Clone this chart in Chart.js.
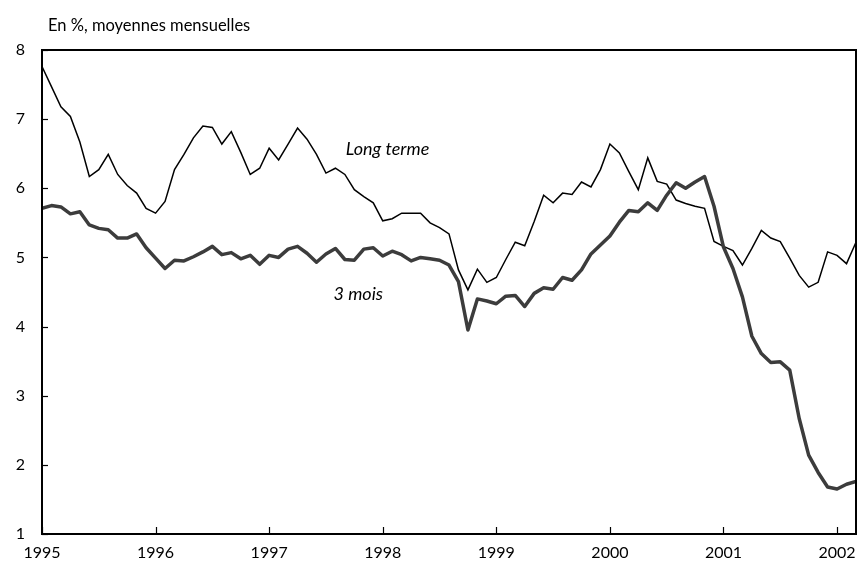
<!DOCTYPE html>
<html>
<head>
<meta charset="utf-8">
<script src="https://cdn.jsdelivr.net/npm/chart.js@4.4.1/dist/chart.umd.min.js"></script>
<style>
html,body{margin:0;padding:0;background:#fff;}
#wrap{width:859px;height:577px;position:relative;}
</style>
</head>
<body>
<div id="wrap"><canvas id="c" width="859" height="577"></canvas></div>
<script>
// Monthly data, January 1995 to March 2002
const startYear = 1995;
const yearTicks = ['1995','1996','1997','1998','1999','2000','2001','2002'];
const yTicks = [1,2,3,4,5,6,7,8];
const titleText = 'En %, moyennes mensuelles';
const seriesNames = ['Long terme','3 mois'];

const longTerme = [
  7.76,7.47,7.18,7.04,6.67,6.17,6.27,6.49,6.20,6.04,5.93,5.71,
  5.64,5.81,6.27,6.49,6.73,6.90,6.88,6.64,6.82,6.52,6.20,6.29,
  6.58,6.41,6.64,6.87,6.71,6.49,6.22,6.29,6.20,5.98,5.88,5.79,
  5.53,5.56,5.64,5.64,5.64,5.50,5.43,5.34,4.82,4.53,4.83,4.64,
  4.71,4.97,5.22,5.17,5.52,5.90,5.79,5.93,5.91,6.09,6.02,6.27,
  6.64,6.51,6.24,5.98,6.44,6.10,6.06,5.83,5.78,5.74,5.71,5.23,
  5.16,5.10,4.89,5.13,5.39,5.28,5.23,4.99,4.74,4.57,4.64,5.08,
  5.03,4.91,5.22
];
const troisMois = [
  5.71,5.75,5.73,5.63,5.66,5.47,5.42,5.40,5.28,5.28,5.34,5.14,
  4.99,4.84,4.96,4.95,5.01,5.08,5.16,5.04,5.07,4.98,5.03,4.90,
  5.03,5.00,5.12,5.16,5.06,4.93,5.05,5.13,4.97,4.96,5.12,5.14,
  5.02,5.09,5.04,4.95,5.00,4.98,4.96,4.89,4.65,3.95,4.40,4.37,
  4.33,4.44,4.45,4.29,4.48,4.56,4.54,4.71,4.67,4.82,5.05,5.18,
  5.31,5.51,5.68,5.66,5.79,5.68,5.90,6.08,6.00,6.09,6.17,5.74,
  5.15,4.84,4.43,3.86,3.61,3.48,3.49,3.37,2.67,2.14,1.89,1.68,
  1.65,1.72,1.76
];

const n = longTerme.length;
const monthIndex = [];
for (let i = 0; i < n; i++) monthIndex.push(i);
const toPts = arr => arr.map((v, i) => ({x: monthIndex[i], y: v}));

const FONT = 'Lato, "DejaVu Sans", sans-serif';

const framePlugin = {
  id: 'frame',
  afterDatasetsDraw(chart) {
    const {ctx, chartArea: a, scales} = chart;
    ctx.save();
    ctx.strokeStyle = '#000';
    ctx.lineWidth = 2;
    ctx.strokeRect(a.left, a.top, a.right - a.left, a.bottom - a.top);
    ctx.lineWidth = 1.2;
    // inward y ticks
    scales.y.ticks.forEach(t => {
      const py = Math.round(scales.y.getPixelForValue(t.value)) + 0.5;
      ctx.beginPath(); ctx.moveTo(a.left, py); ctx.lineTo(a.left + 6, py); ctx.stroke();
    });
    // inward x ticks
    scales.x.ticks.forEach(t => {
      const px = Math.round(scales.x.getPixelForValue(t.value)) + 0.5;
      ctx.beginPath(); ctx.moveTo(px, a.bottom); ctx.lineTo(px, a.bottom - 7); ctx.stroke();
    });
    // annotations
    ctx.fillStyle = '#000';
    ctx.font = 'italic 18px ' + FONT;
    ctx.textBaseline = 'middle';
    ctx.textAlign = 'left';
    ctx.fillText(seriesNames[0], scales.x.getPixelForValue(32.1), scales.y.getPixelForValue(6.56));
    ctx.fillText(seriesNames[1], scales.x.getPixelForValue(30.8), scales.y.getPixelForValue(4.47));
    // title
    ctx.font = '16.5px ' + FONT;
    ctx.fillText(titleText, 48, 26);
    ctx.restore();
  }
};

new Chart(document.getElementById('c'), {
  type: 'line',
  data: {
    datasets: [
      {label: seriesNames[1], data: toPts(troisMois), borderColor: '#3c3c3c', borderWidth: 3.5, pointRadius: 0, tension: 0, borderJoinStyle: 'round', borderCapStyle: 'round'},
      {label: seriesNames[0], data: toPts(longTerme), borderColor: '#000', borderWidth: 1.5, pointRadius: 0, tension: 0}
    ]
  },
  options: {
    responsive: false,
    animation: false,
    events: [],
    layout: {padding: {top: 50, right: 3, left: 0, bottom: 0}},
    plugins: {legend: {display: false}, tooltip: {enabled: false}, title: {display: false}},
    scales: {
      x: {
        type: 'linear', min: 0, max: n - 1,
        afterBuildTicks(scale) {
          scale.ticks = yearTicks.map((_, k) => ({value: k * 12}));
        },
        afterFit(scale) {
          scale.height = 43;
          scale.paddingLeft = 0; scale.paddingRight = 0;
        },
        grid: {display: false, drawTicks: false},
        border: {display: false},
        ticks: {
          autoSkip: false, maxRotation: 0, padding: 9,
          color: '#000', font: {family: FONT, size: 16},
          callback: v => yearTicks[Math.round(v / 12)]
        }
      },
      y: {
        min: 1, max: 8,
        afterBuildTicks(scale) { scale.ticks = yTicks.map(v => ({value: v})); },
        afterFit(scale) {
          scale.width = 42;
          scale.paddingTop = 0; scale.paddingBottom = 0;
        },
        grid: {display: false, drawTicks: false},
        border: {display: false},
        ticks: {padding: 17, color: '#000', font: {family: FONT, size: 16}, callback: v => String(v)}
      }
    }
  },
  plugins: [framePlugin]
});
</script>
</body>
</html>
